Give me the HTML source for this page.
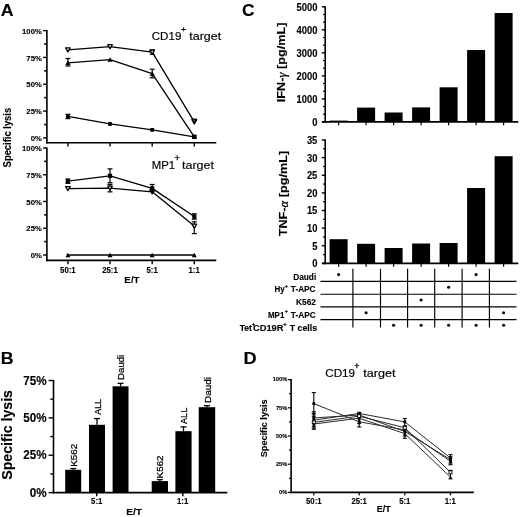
<!DOCTYPE html>
<html><head><meta charset="utf-8"><style>
html,body{margin:0;padding:0;background:#fff;}
svg{display:block;font-family:"Liberation Sans",sans-serif;will-change:transform;}
</style></head><body>
<svg width="520" height="517" viewBox="0 0 520 517">
<rect width="520" height="517" fill="#fff"/>
<text x="0.86" y="16.00" font-size="16.80" font-weight="bold" textLength="12.83" lengthAdjust="spacingAndGlyphs" stroke="#000" stroke-width="0.12">A</text>
<line x1="46.90" y1="30.00" x2="46.90" y2="143.50" stroke="#000" stroke-width="1.6"/>
<line x1="46.10" y1="142.70" x2="216.30" y2="142.70" stroke="#000" stroke-width="1.6"/>
<line x1="43.10" y1="30.60" x2="46.90" y2="30.60" stroke="#000" stroke-width="1.4"/>
<text x="22.08" y="33.80" font-size="7.70" font-weight="bold" textLength="19.69" lengthAdjust="spacingAndGlyphs" stroke="#000" stroke-width="0.12">100%</text>
<line x1="44.20" y1="44.01" x2="46.90" y2="44.01" stroke="#000" stroke-width="1.6"/>
<line x1="43.10" y1="57.43" x2="46.90" y2="57.43" stroke="#000" stroke-width="1.4"/>
<text x="26.39" y="60.63" font-size="7.70" font-weight="bold" textLength="15.41" lengthAdjust="spacingAndGlyphs" stroke="#000" stroke-width="0.12">75%</text>
<line x1="44.20" y1="70.84" x2="46.90" y2="70.84" stroke="#000" stroke-width="1.6"/>
<line x1="43.10" y1="84.25" x2="46.90" y2="84.25" stroke="#000" stroke-width="1.4"/>
<text x="26.39" y="87.45" font-size="7.70" font-weight="bold" textLength="15.41" lengthAdjust="spacingAndGlyphs" stroke="#000" stroke-width="0.12">50%</text>
<line x1="44.20" y1="97.66" x2="46.90" y2="97.66" stroke="#000" stroke-width="1.6"/>
<line x1="43.10" y1="111.08" x2="46.90" y2="111.08" stroke="#000" stroke-width="1.4"/>
<text x="26.39" y="114.28" font-size="7.70" font-weight="bold" textLength="15.41" lengthAdjust="spacingAndGlyphs" stroke="#000" stroke-width="0.12">25%</text>
<line x1="44.20" y1="124.49" x2="46.90" y2="124.49" stroke="#000" stroke-width="1.6"/>
<line x1="43.10" y1="137.90" x2="46.90" y2="137.90" stroke="#000" stroke-width="1.4"/>
<text x="30.67" y="141.10" font-size="7.70" font-weight="bold" textLength="11.13" lengthAdjust="spacingAndGlyphs" stroke="#000" stroke-width="0.12">0%</text>
<line x1="67.90" y1="142.70" x2="67.90" y2="146.50" stroke="#000" stroke-width="1.4"/>
<line x1="110.00" y1="142.70" x2="110.00" y2="146.50" stroke="#000" stroke-width="1.4"/>
<line x1="152.20" y1="142.70" x2="152.20" y2="146.50" stroke="#000" stroke-width="1.4"/>
<line x1="194.30" y1="142.70" x2="194.30" y2="146.50" stroke="#000" stroke-width="1.4"/>
<polyline points="67.90,49.91 110.00,46.69 152.20,52.06 194.30,121.81" fill="none" stroke="#000" stroke-width="1.3" stroke-linejoin="round"/>
<polyline points="67.90,62.79 110.00,59.57 152.20,73.52 194.30,136.83" fill="none" stroke="#000" stroke-width="1.3" stroke-linejoin="round"/>
<polyline points="67.90,116.44 110.00,123.95 152.20,129.85 194.30,136.83" fill="none" stroke="#000" stroke-width="1.3" stroke-linejoin="round"/>
<line x1="67.90" y1="58.50" x2="67.90" y2="66.01" stroke="#000" stroke-width="1.2"/>
<line x1="65.40" y1="58.50" x2="70.40" y2="58.50" stroke="#000" stroke-width="1.2"/>
<line x1="65.40" y1="66.01" x2="70.40" y2="66.01" stroke="#000" stroke-width="1.2"/>
<line x1="152.20" y1="69.23" x2="152.20" y2="77.81" stroke="#000" stroke-width="1.2"/>
<line x1="149.70" y1="69.23" x2="154.70" y2="69.23" stroke="#000" stroke-width="1.2"/>
<line x1="149.70" y1="77.81" x2="154.70" y2="77.81" stroke="#000" stroke-width="1.2"/>
<line x1="67.90" y1="114.29" x2="67.90" y2="118.59" stroke="#000" stroke-width="1.2"/>
<line x1="65.40" y1="114.29" x2="70.40" y2="114.29" stroke="#000" stroke-width="1.2"/>
<line x1="65.40" y1="118.59" x2="70.40" y2="118.59" stroke="#000" stroke-width="1.2"/>
<line x1="152.20" y1="49.91" x2="152.20" y2="54.21" stroke="#000" stroke-width="1.2"/>
<line x1="149.70" y1="49.91" x2="154.70" y2="49.91" stroke="#000" stroke-width="1.2"/>
<line x1="149.70" y1="54.21" x2="154.70" y2="54.21" stroke="#000" stroke-width="1.2"/>
<polygon points="65.60,47.91 70.20,47.91 67.90,51.91" fill="#fff" stroke="#000" stroke-width="1.3" stroke-linejoin="round"/>
<polygon points="107.70,44.69 112.30,44.69 110.00,48.70" fill="#fff" stroke="#000" stroke-width="1.3" stroke-linejoin="round"/>
<polygon points="149.90,50.06 154.50,50.06 152.20,54.06" fill="#fff" stroke="#000" stroke-width="1.3" stroke-linejoin="round"/>
<polygon points="192.00,119.80 196.60,119.80 194.30,123.81" fill="#fff" stroke="#000" stroke-width="1.3" stroke-linejoin="round"/>
<polygon points="192.20,119.17 196.40,119.17 194.30,123.57" fill="#666" stroke="#000" stroke-width="1.4" stroke-linejoin="round"/>
<polygon points="65.30,65.05 70.50,65.05 67.90,60.53" fill="#000"/>
<polygon points="107.40,61.83 112.60,61.83 110.00,57.31" fill="#000"/>
<polygon points="149.60,75.78 154.80,75.78 152.20,71.26" fill="#000"/>
<polygon points="191.70,139.09 196.90,139.09 194.30,134.56" fill="#000"/>
<rect x="66.00" y="114.54" width="3.80" height="3.80" fill="#000"/>
<rect x="108.10" y="122.05" width="3.80" height="3.80" fill="#000"/>
<rect x="150.30" y="127.95" width="3.80" height="3.80" fill="#000"/>
<rect x="192.40" y="134.93" width="3.80" height="3.80" fill="#000"/>
<rect x="192.10" y="134.63" width="4.40" height="4.40" fill="#000"/>
<text x="151.72" y="39.70" font-size="11.70" font-weight="normal" textLength="29.62" lengthAdjust="spacingAndGlyphs" stroke="#000" stroke-width="0.18">CD19</text>
<text x="180.96" y="31.52" font-size="7.96" font-weight="normal" textLength="5.18" lengthAdjust="spacingAndGlyphs" stroke="#000" stroke-width="0.3">+</text>
<text x="189.31" y="39.70" font-size="11.70" font-weight="normal" textLength="31.88" lengthAdjust="spacingAndGlyphs" stroke="#000" stroke-width="0.18">target</text>
<line x1="46.90" y1="147.40" x2="46.90" y2="261.20" stroke="#000" stroke-width="1.6"/>
<line x1="46.10" y1="260.40" x2="216.30" y2="260.40" stroke="#000" stroke-width="1.6"/>
<line x1="43.10" y1="148.00" x2="46.90" y2="148.00" stroke="#000" stroke-width="1.4"/>
<text x="22.08" y="151.20" font-size="7.70" font-weight="bold" textLength="19.69" lengthAdjust="spacingAndGlyphs" stroke="#000" stroke-width="0.12">100%</text>
<line x1="44.20" y1="161.38" x2="46.90" y2="161.38" stroke="#000" stroke-width="1.6"/>
<line x1="43.10" y1="174.75" x2="46.90" y2="174.75" stroke="#000" stroke-width="1.4"/>
<text x="26.39" y="177.95" font-size="7.70" font-weight="bold" textLength="15.41" lengthAdjust="spacingAndGlyphs" stroke="#000" stroke-width="0.12">75%</text>
<line x1="44.20" y1="188.12" x2="46.90" y2="188.12" stroke="#000" stroke-width="1.6"/>
<line x1="43.10" y1="201.50" x2="46.90" y2="201.50" stroke="#000" stroke-width="1.4"/>
<text x="26.39" y="204.70" font-size="7.70" font-weight="bold" textLength="15.41" lengthAdjust="spacingAndGlyphs" stroke="#000" stroke-width="0.12">50%</text>
<line x1="44.20" y1="214.88" x2="46.90" y2="214.88" stroke="#000" stroke-width="1.6"/>
<line x1="43.10" y1="228.25" x2="46.90" y2="228.25" stroke="#000" stroke-width="1.4"/>
<text x="26.39" y="231.45" font-size="7.70" font-weight="bold" textLength="15.41" lengthAdjust="spacingAndGlyphs" stroke="#000" stroke-width="0.12">25%</text>
<line x1="44.20" y1="241.62" x2="46.90" y2="241.62" stroke="#000" stroke-width="1.6"/>
<line x1="43.10" y1="255.00" x2="46.90" y2="255.00" stroke="#000" stroke-width="1.4"/>
<text x="30.67" y="258.20" font-size="7.70" font-weight="bold" textLength="11.13" lengthAdjust="spacingAndGlyphs" stroke="#000" stroke-width="0.12">0%</text>
<line x1="67.90" y1="260.40" x2="67.90" y2="264.20" stroke="#000" stroke-width="1.4"/>
<line x1="110.00" y1="260.40" x2="110.00" y2="264.20" stroke="#000" stroke-width="1.4"/>
<line x1="152.20" y1="260.40" x2="152.20" y2="264.20" stroke="#000" stroke-width="1.4"/>
<line x1="194.30" y1="260.40" x2="194.30" y2="264.20" stroke="#000" stroke-width="1.4"/>
<polyline points="67.90,181.17 110.00,175.82 152.20,188.34 194.30,216.48" fill="none" stroke="#000" stroke-width="1.3" stroke-linejoin="round"/>
<polyline points="67.90,188.66 110.00,188.12 152.20,191.87 194.30,226.11" fill="none" stroke="#000" stroke-width="1.3" stroke-linejoin="round"/>
<polyline points="67.90,255.00 110.00,255.00 152.20,255.00 194.30,255.00" fill="none" stroke="#000" stroke-width="1.3" stroke-linejoin="round"/>
<line x1="110.00" y1="168.87" x2="110.00" y2="182.77" stroke="#000" stroke-width="1.2"/>
<line x1="107.50" y1="168.87" x2="112.50" y2="168.87" stroke="#000" stroke-width="1.2"/>
<line x1="107.50" y1="182.77" x2="112.50" y2="182.77" stroke="#000" stroke-width="1.2"/>
<line x1="110.00" y1="184.38" x2="110.00" y2="191.87" stroke="#000" stroke-width="1.2"/>
<line x1="107.50" y1="184.38" x2="112.50" y2="184.38" stroke="#000" stroke-width="1.2"/>
<line x1="107.50" y1="191.87" x2="112.50" y2="191.87" stroke="#000" stroke-width="1.2"/>
<line x1="194.30" y1="213.81" x2="194.30" y2="219.16" stroke="#000" stroke-width="1.2"/>
<line x1="191.80" y1="213.81" x2="196.80" y2="213.81" stroke="#000" stroke-width="1.2"/>
<line x1="191.80" y1="219.16" x2="196.80" y2="219.16" stroke="#000" stroke-width="1.2"/>
<line x1="194.30" y1="221.83" x2="194.30" y2="233.60" stroke="#000" stroke-width="1.2"/>
<line x1="191.80" y1="221.83" x2="196.80" y2="221.83" stroke="#000" stroke-width="1.2"/>
<line x1="191.80" y1="233.60" x2="196.80" y2="233.60" stroke="#000" stroke-width="1.2"/>
<line x1="67.90" y1="179.03" x2="67.90" y2="183.31" stroke="#000" stroke-width="1.2"/>
<line x1="65.40" y1="179.03" x2="70.40" y2="179.03" stroke="#000" stroke-width="1.2"/>
<line x1="65.40" y1="183.31" x2="70.40" y2="183.31" stroke="#000" stroke-width="1.2"/>
<line x1="152.20" y1="184.49" x2="152.20" y2="190.80" stroke="#000" stroke-width="1.2"/>
<line x1="149.70" y1="184.49" x2="154.70" y2="184.49" stroke="#000" stroke-width="1.2"/>
<line x1="149.70" y1="190.80" x2="154.70" y2="190.80" stroke="#000" stroke-width="1.2"/>
<rect x="65.80" y="179.07" width="4.20" height="4.20" fill="#000"/>
<rect x="107.90" y="173.72" width="4.20" height="4.20" fill="#000"/>
<rect x="150.10" y="186.24" width="4.20" height="4.20" fill="#000"/>
<rect x="192.20" y="214.38" width="4.20" height="4.20" fill="#000"/>
<polygon points="65.60,186.66 70.20,186.66 67.90,190.66" fill="#fff" stroke="#000" stroke-width="1.3" stroke-linejoin="round"/>
<polygon points="107.70,186.12 112.30,186.12 110.00,190.13" fill="#fff" stroke="#000" stroke-width="1.3" stroke-linejoin="round"/>
<polygon points="149.90,189.87 154.50,189.87 152.20,193.87" fill="#fff" stroke="#000" stroke-width="1.3" stroke-linejoin="round"/>
<polygon points="192.00,224.11 196.60,224.11 194.30,228.11" fill="#fff" stroke="#000" stroke-width="1.3" stroke-linejoin="round"/>
<polygon points="149.50,189.52 154.90,189.52 152.20,194.22" fill="#000"/>
<polygon points="65.40,257.18 70.40,257.18 67.90,252.82" fill="#000"/>
<polygon points="107.50,257.18 112.50,257.18 110.00,252.82" fill="#000"/>
<polygon points="149.70,257.18 154.70,257.18 152.20,252.82" fill="#000"/>
<polygon points="191.80,257.18 196.80,257.18 194.30,252.82" fill="#000"/>
<text x="151.69" y="168.50" font-size="11.70" font-weight="normal" textLength="23.39" lengthAdjust="spacingAndGlyphs" stroke="#000" stroke-width="0.18">MP1</text>
<text x="174.43" y="160.65" font-size="8.37" font-weight="normal" textLength="5.54" lengthAdjust="spacingAndGlyphs" stroke="#000" stroke-width="0.3">+</text>
<text x="182.01" y="168.50" font-size="11.70" font-weight="normal" textLength="31.88" lengthAdjust="spacingAndGlyphs" stroke="#000" stroke-width="0.18">target</text>
<text x="60.07" y="272.50" font-size="8.40" font-weight="bold" textLength="15.64" lengthAdjust="spacingAndGlyphs" stroke="#000" stroke-width="0.12">50:1</text>
<text x="102.15" y="272.50" font-size="8.40" font-weight="bold" textLength="15.64" lengthAdjust="spacingAndGlyphs" stroke="#000" stroke-width="0.12">25:1</text>
<text x="146.54" y="272.50" font-size="8.40" font-weight="bold" textLength="11.29" lengthAdjust="spacingAndGlyphs" stroke="#000" stroke-width="0.12">5:1</text>
<text x="188.50" y="272.50" font-size="8.40" font-weight="bold" textLength="11.29" lengthAdjust="spacingAndGlyphs" stroke="#000" stroke-width="0.12">1:1</text>
<text x="124.36" y="282.50" font-size="9.00" font-weight="bold" textLength="15.24" lengthAdjust="spacingAndGlyphs" stroke="#000" stroke-width="0.12">E/T</text>
<text x="10.80" y="167.38" font-size="10.00" font-weight="bold" textLength="59.58" lengthAdjust="spacingAndGlyphs" transform="rotate(-90 10.80 167.38)" stroke="#000" stroke-width="0.12">Specific lysis</text>
<text x="242.10" y="16.20" font-size="17.00" font-weight="bold" textLength="12.57" lengthAdjust="spacingAndGlyphs" stroke="#000" stroke-width="0.12">C</text>
<line x1="325.20" y1="6.20" x2="325.20" y2="122.70" stroke="#000" stroke-width="1.6"/>
<line x1="322.00" y1="121.90" x2="518.30" y2="121.90" stroke="#000" stroke-width="1.6"/>
<line x1="321.80" y1="6.80" x2="325.20" y2="6.80" stroke="#000" stroke-width="1.4"/>
<text x="296.60" y="10.70" font-size="10.20" font-weight="bold" textLength="20.88" lengthAdjust="spacingAndGlyphs" stroke="#000" stroke-width="0.12">5000</text>
<line x1="323.00" y1="14.47" x2="325.20" y2="14.47" stroke="#000" stroke-width="1.2"/>
<line x1="323.00" y1="22.15" x2="325.20" y2="22.15" stroke="#000" stroke-width="1.2"/>
<line x1="321.80" y1="29.82" x2="325.20" y2="29.82" stroke="#000" stroke-width="1.4"/>
<text x="296.60" y="33.72" font-size="10.20" font-weight="bold" textLength="20.88" lengthAdjust="spacingAndGlyphs" stroke="#000" stroke-width="0.12">4000</text>
<line x1="323.00" y1="37.49" x2="325.20" y2="37.49" stroke="#000" stroke-width="1.2"/>
<line x1="323.00" y1="45.17" x2="325.20" y2="45.17" stroke="#000" stroke-width="1.2"/>
<line x1="321.80" y1="52.84" x2="325.20" y2="52.84" stroke="#000" stroke-width="1.4"/>
<text x="296.60" y="56.74" font-size="10.20" font-weight="bold" textLength="20.88" lengthAdjust="spacingAndGlyphs" stroke="#000" stroke-width="0.12">3000</text>
<line x1="323.00" y1="60.51" x2="325.20" y2="60.51" stroke="#000" stroke-width="1.2"/>
<line x1="323.00" y1="68.19" x2="325.20" y2="68.19" stroke="#000" stroke-width="1.2"/>
<line x1="321.80" y1="75.86" x2="325.20" y2="75.86" stroke="#000" stroke-width="1.4"/>
<text x="296.60" y="79.76" font-size="10.20" font-weight="bold" textLength="20.88" lengthAdjust="spacingAndGlyphs" stroke="#000" stroke-width="0.12">2000</text>
<line x1="323.00" y1="83.53" x2="325.20" y2="83.53" stroke="#000" stroke-width="1.2"/>
<line x1="323.00" y1="91.21" x2="325.20" y2="91.21" stroke="#000" stroke-width="1.2"/>
<line x1="321.80" y1="98.88" x2="325.20" y2="98.88" stroke="#000" stroke-width="1.4"/>
<text x="296.60" y="102.78" font-size="10.20" font-weight="bold" textLength="20.88" lengthAdjust="spacingAndGlyphs" stroke="#000" stroke-width="0.12">1000</text>
<line x1="323.00" y1="106.55" x2="325.20" y2="106.55" stroke="#000" stroke-width="1.2"/>
<line x1="323.00" y1="114.23" x2="325.20" y2="114.23" stroke="#000" stroke-width="1.2"/>
<line x1="321.80" y1="121.90" x2="325.20" y2="121.90" stroke="#000" stroke-width="1.4"/>
<text x="312.27" y="125.80" font-size="10.20" font-weight="bold" textLength="5.22" lengthAdjust="spacingAndGlyphs" stroke="#000" stroke-width="0.12">0</text>
<line x1="338.60" y1="121.90" x2="338.60" y2="125.20" stroke="#000" stroke-width="1.2"/>
<line x1="366.10" y1="121.90" x2="366.10" y2="125.20" stroke="#000" stroke-width="1.2"/>
<line x1="393.60" y1="121.90" x2="393.60" y2="125.20" stroke="#000" stroke-width="1.2"/>
<line x1="421.10" y1="121.90" x2="421.10" y2="125.20" stroke="#000" stroke-width="1.2"/>
<line x1="448.60" y1="121.90" x2="448.60" y2="125.20" stroke="#000" stroke-width="1.2"/>
<line x1="476.10" y1="121.90" x2="476.10" y2="125.20" stroke="#000" stroke-width="1.2"/>
<line x1="503.60" y1="121.90" x2="503.60" y2="125.20" stroke="#000" stroke-width="1.2"/>
<rect x="329.60" y="120.60" width="18.00" height="1.00" fill="#000"/>
<rect x="357.10" y="107.60" width="18.00" height="14.00" fill="#000"/>
<rect x="384.60" y="112.50" width="18.00" height="9.10" fill="#000"/>
<rect x="412.10" y="107.40" width="18.00" height="14.20" fill="#000"/>
<rect x="439.60" y="87.30" width="18.00" height="34.30" fill="#000"/>
<rect x="467.10" y="50.00" width="18.00" height="71.60" fill="#000"/>
<rect x="494.60" y="13.00" width="18.00" height="108.60" fill="#000"/>
<line x1="325.20" y1="139.40" x2="325.20" y2="264.20" stroke="#000" stroke-width="1.6"/>
<line x1="322.00" y1="263.40" x2="518.30" y2="263.40" stroke="#000" stroke-width="1.6"/>
<line x1="321.80" y1="140.00" x2="325.20" y2="140.00" stroke="#000" stroke-width="1.4"/>
<text x="306.92" y="143.90" font-size="10.20" font-weight="bold" textLength="10.44" lengthAdjust="spacingAndGlyphs" stroke="#000" stroke-width="0.12">35</text>
<line x1="323.00" y1="148.81" x2="325.20" y2="148.81" stroke="#000" stroke-width="1.2"/>
<line x1="321.80" y1="157.63" x2="325.20" y2="157.63" stroke="#000" stroke-width="1.4"/>
<text x="307.06" y="161.53" font-size="10.20" font-weight="bold" textLength="10.44" lengthAdjust="spacingAndGlyphs" stroke="#000" stroke-width="0.12">30</text>
<line x1="323.00" y1="166.44" x2="325.20" y2="166.44" stroke="#000" stroke-width="1.2"/>
<line x1="321.80" y1="175.26" x2="325.20" y2="175.26" stroke="#000" stroke-width="1.4"/>
<text x="306.92" y="179.16" font-size="10.20" font-weight="bold" textLength="10.44" lengthAdjust="spacingAndGlyphs" stroke="#000" stroke-width="0.12">25</text>
<line x1="323.00" y1="184.07" x2="325.20" y2="184.07" stroke="#000" stroke-width="1.2"/>
<line x1="321.80" y1="192.89" x2="325.20" y2="192.89" stroke="#000" stroke-width="1.4"/>
<text x="307.06" y="196.79" font-size="10.20" font-weight="bold" textLength="10.44" lengthAdjust="spacingAndGlyphs" stroke="#000" stroke-width="0.12">20</text>
<line x1="323.00" y1="201.70" x2="325.20" y2="201.70" stroke="#000" stroke-width="1.2"/>
<line x1="321.80" y1="210.51" x2="325.20" y2="210.51" stroke="#000" stroke-width="1.4"/>
<text x="306.92" y="214.41" font-size="10.20" font-weight="bold" textLength="10.44" lengthAdjust="spacingAndGlyphs" stroke="#000" stroke-width="0.12">15</text>
<line x1="323.00" y1="219.33" x2="325.20" y2="219.33" stroke="#000" stroke-width="1.2"/>
<line x1="321.80" y1="228.14" x2="325.20" y2="228.14" stroke="#000" stroke-width="1.4"/>
<text x="307.06" y="232.04" font-size="10.20" font-weight="bold" textLength="10.44" lengthAdjust="spacingAndGlyphs" stroke="#000" stroke-width="0.12">10</text>
<line x1="323.00" y1="236.96" x2="325.20" y2="236.96" stroke="#000" stroke-width="1.2"/>
<line x1="321.80" y1="245.77" x2="325.20" y2="245.77" stroke="#000" stroke-width="1.4"/>
<text x="312.13" y="249.67" font-size="10.20" font-weight="bold" textLength="5.22" lengthAdjust="spacingAndGlyphs" stroke="#000" stroke-width="0.12">5</text>
<line x1="323.00" y1="254.59" x2="325.20" y2="254.59" stroke="#000" stroke-width="1.2"/>
<line x1="321.80" y1="263.40" x2="325.20" y2="263.40" stroke="#000" stroke-width="1.4"/>
<text x="312.27" y="267.30" font-size="10.20" font-weight="bold" textLength="5.22" lengthAdjust="spacingAndGlyphs" stroke="#000" stroke-width="0.12">0</text>
<line x1="338.60" y1="263.40" x2="338.60" y2="266.70" stroke="#000" stroke-width="1.2"/>
<line x1="366.10" y1="263.40" x2="366.10" y2="266.70" stroke="#000" stroke-width="1.2"/>
<line x1="393.60" y1="263.40" x2="393.60" y2="266.70" stroke="#000" stroke-width="1.2"/>
<line x1="421.10" y1="263.40" x2="421.10" y2="266.70" stroke="#000" stroke-width="1.2"/>
<line x1="448.60" y1="263.40" x2="448.60" y2="266.70" stroke="#000" stroke-width="1.2"/>
<line x1="476.10" y1="263.40" x2="476.10" y2="266.70" stroke="#000" stroke-width="1.2"/>
<line x1="503.60" y1="263.40" x2="503.60" y2="266.70" stroke="#000" stroke-width="1.2"/>
<rect x="329.60" y="239.20" width="18.00" height="23.80" fill="#000"/>
<rect x="357.10" y="243.80" width="18.00" height="19.20" fill="#000"/>
<rect x="384.60" y="248.00" width="18.00" height="15.00" fill="#000"/>
<rect x="412.10" y="243.50" width="18.00" height="19.50" fill="#000"/>
<rect x="439.60" y="243.00" width="18.00" height="20.00" fill="#000"/>
<rect x="467.10" y="188.00" width="18.00" height="75.00" fill="#000"/>
<rect x="494.60" y="156.20" width="18.00" height="106.80" fill="#000"/>
<text x="284.70" y="102.22" font-size="11.80" font-weight="bold" textLength="24.65" lengthAdjust="spacingAndGlyphs" transform="rotate(-90 284.70 102.22)" stroke="#000" stroke-width="0.12">IFN-</text>
<text x="285.70" y="77.57" font-size="13.22" font-weight="normal" font-family="Liberation Serif" font-style="italic" textLength="5.00" lengthAdjust="spacingAndGlyphs" transform="rotate(-90 285.70 77.57)" stroke="#000" stroke-width="0.3">γ</text>
<text x="284.70" y="72.57" font-size="11.80" font-weight="bold" textLength="50.01" lengthAdjust="spacingAndGlyphs" transform="rotate(-90 284.70 72.57)" stroke="#000" stroke-width="0.12"> [pg/mL]</text>
<text x="287.30" y="236.33" font-size="11.80" font-weight="bold" textLength="28.85" lengthAdjust="spacingAndGlyphs" transform="rotate(-90 287.30 236.33)" stroke="#000" stroke-width="0.12">TNF-</text>
<text x="288.30" y="207.48" font-size="13.22" font-weight="normal" font-family="Liberation Serif" font-style="italic" textLength="6.65" lengthAdjust="spacingAndGlyphs" transform="rotate(-90 288.30 207.48)" stroke="#000" stroke-width="0.3">α</text>
<text x="287.30" y="200.83" font-size="11.80" font-weight="bold" textLength="49.97" lengthAdjust="spacingAndGlyphs" transform="rotate(-90 287.30 200.83)" stroke="#000" stroke-width="0.12"> [pg/mL]</text>
<text x="293.15" y="279.60" font-size="8.30" font-weight="bold" textLength="23.06" lengthAdjust="spacingAndGlyphs" stroke="#000" stroke-width="0.12">Daudi</text>
<text x="274.58" y="292.40" font-size="8.30" font-weight="bold" textLength="10.18" lengthAdjust="spacingAndGlyphs" stroke="#000" stroke-width="0.12">Hy</text>
<text x="284.69" y="288.13" font-size="5.69" font-weight="bold" textLength="3.12" lengthAdjust="spacingAndGlyphs" stroke="#000" stroke-width="0.2">+</text>
<text x="290.82" y="292.40" font-size="8.30" font-weight="bold" textLength="24.69" lengthAdjust="spacingAndGlyphs" stroke="#000" stroke-width="0.12">T-APC</text>
<text x="296.10" y="304.90" font-size="8.30" font-weight="bold" textLength="19.84" lengthAdjust="spacingAndGlyphs" stroke="#000" stroke-width="0.12">K562</text>
<text x="267.98" y="318.20" font-size="8.40" font-weight="bold" textLength="16.43" lengthAdjust="spacingAndGlyphs" stroke="#000" stroke-width="0.12">MP1</text>
<text x="284.79" y="312.50" font-size="5.29" font-weight="bold" textLength="3.12" lengthAdjust="spacingAndGlyphs" stroke="#000" stroke-width="0.2">+</text>
<text x="290.82" y="318.20" font-size="8.40" font-weight="bold" textLength="24.89" lengthAdjust="spacingAndGlyphs" stroke="#000" stroke-width="0.12">T-APC</text>
<text x="239.71" y="330.50" font-size="8.40" font-weight="bold" textLength="12.28" lengthAdjust="spacingAndGlyphs" stroke="#000" stroke-width="0.12">Tet</text>
<text x="251.67" y="325.64" font-size="5.88" font-weight="bold" textLength="3.35" lengthAdjust="spacingAndGlyphs" stroke="#000" stroke-width="0.2">+</text>
<text x="253.03" y="330.50" font-size="8.40" font-weight="bold" textLength="30.49" lengthAdjust="spacingAndGlyphs" stroke="#000" stroke-width="0.12">CD19R</text>
<text x="283.36" y="325.64" font-size="5.88" font-weight="bold" textLength="3.47" lengthAdjust="spacingAndGlyphs" stroke="#000" stroke-width="0.2">+</text>
<text x="289.71" y="330.50" font-size="8.40" font-weight="bold" textLength="27.47" lengthAdjust="spacingAndGlyphs" stroke="#000" stroke-width="0.12">T cells</text>
<line x1="320.50" y1="281.40" x2="516.50" y2="281.40" stroke="#000" stroke-width="1.15"/>
<line x1="320.50" y1="294.20" x2="516.50" y2="294.20" stroke="#000" stroke-width="1.15"/>
<line x1="320.50" y1="306.90" x2="516.50" y2="306.90" stroke="#000" stroke-width="1.15"/>
<line x1="320.50" y1="319.60" x2="516.50" y2="319.60" stroke="#000" stroke-width="1.15"/>
<line x1="352.90" y1="268.80" x2="352.90" y2="327.50" stroke="#000" stroke-width="1.15"/>
<line x1="380.50" y1="268.80" x2="380.50" y2="327.50" stroke="#000" stroke-width="1.15"/>
<line x1="407.60" y1="268.80" x2="407.60" y2="327.50" stroke="#000" stroke-width="1.15"/>
<line x1="434.70" y1="268.80" x2="434.70" y2="327.50" stroke="#000" stroke-width="1.15"/>
<line x1="462.10" y1="268.80" x2="462.10" y2="327.50" stroke="#000" stroke-width="1.15"/>
<line x1="489.40" y1="268.80" x2="489.40" y2="327.50" stroke="#000" stroke-width="1.15"/>
<circle cx="338.60" cy="274.60" r="1.55" fill="#000"/>
<circle cx="366.10" cy="312.70" r="1.55" fill="#000"/>
<circle cx="393.60" cy="325.30" r="1.55" fill="#000"/>
<circle cx="421.10" cy="300.00" r="1.55" fill="#000"/>
<circle cx="421.10" cy="325.30" r="1.55" fill="#000"/>
<circle cx="448.60" cy="287.20" r="1.55" fill="#000"/>
<circle cx="448.60" cy="325.30" r="1.55" fill="#000"/>
<circle cx="476.10" cy="274.60" r="1.55" fill="#000"/>
<circle cx="476.10" cy="325.30" r="1.55" fill="#000"/>
<circle cx="503.60" cy="312.70" r="1.55" fill="#000"/>
<circle cx="503.60" cy="325.30" r="1.55" fill="#000"/>
<text x="0.75" y="363.50" font-size="15.80" font-weight="bold" textLength="12.79" lengthAdjust="spacingAndGlyphs" stroke="#000" stroke-width="0.12">B</text>
<line x1="53.50" y1="379.90" x2="53.50" y2="493.40" stroke="#000" stroke-width="1.6"/>
<line x1="52.70" y1="492.60" x2="227.30" y2="492.60" stroke="#000" stroke-width="1.6"/>
<line x1="48.60" y1="380.50" x2="53.50" y2="380.50" stroke="#000" stroke-width="1.4"/>
<text x="23.27" y="384.60" font-size="11.90" font-weight="bold" textLength="23.34" lengthAdjust="spacingAndGlyphs" stroke="#000" stroke-width="0.12">75%</text>
<line x1="50.30" y1="399.18" x2="53.50" y2="399.18" stroke="#000" stroke-width="1.4"/>
<line x1="48.60" y1="417.87" x2="53.50" y2="417.87" stroke="#000" stroke-width="1.4"/>
<text x="23.27" y="421.97" font-size="11.90" font-weight="bold" textLength="23.34" lengthAdjust="spacingAndGlyphs" stroke="#000" stroke-width="0.12">50%</text>
<line x1="50.30" y1="436.55" x2="53.50" y2="436.55" stroke="#000" stroke-width="1.4"/>
<line x1="48.60" y1="455.23" x2="53.50" y2="455.23" stroke="#000" stroke-width="1.4"/>
<text x="23.27" y="459.33" font-size="11.90" font-weight="bold" textLength="23.34" lengthAdjust="spacingAndGlyphs" stroke="#000" stroke-width="0.12">25%</text>
<line x1="50.30" y1="473.92" x2="53.50" y2="473.92" stroke="#000" stroke-width="1.4"/>
<line x1="48.60" y1="492.60" x2="53.50" y2="492.60" stroke="#000" stroke-width="1.4"/>
<text x="29.74" y="496.70" font-size="11.90" font-weight="bold" textLength="16.86" lengthAdjust="spacingAndGlyphs" stroke="#000" stroke-width="0.12">0%</text>
<rect x="65.20" y="469.80" width="16.00" height="22.80" fill="#000"/>
<line x1="73.20" y1="468.60" x2="73.20" y2="469.80" stroke="#000" stroke-width="1.3"/>
<line x1="70.20" y1="468.60" x2="76.20" y2="468.60" stroke="#000" stroke-width="1.3"/>
<rect x="89.00" y="424.80" width="16.00" height="67.80" fill="#000"/>
<line x1="97.00" y1="418.60" x2="97.00" y2="424.80" stroke="#000" stroke-width="1.3"/>
<line x1="94.00" y1="418.60" x2="100.00" y2="418.60" stroke="#000" stroke-width="1.3"/>
<rect x="112.60" y="386.30" width="15.90" height="106.30" fill="#000"/>
<line x1="120.55" y1="383.30" x2="120.55" y2="386.30" stroke="#000" stroke-width="1.3"/>
<line x1="117.55" y1="383.30" x2="123.55" y2="383.30" stroke="#000" stroke-width="1.3"/>
<rect x="151.70" y="481.10" width="16.30" height="11.50" fill="#000"/>
<line x1="159.85" y1="479.60" x2="159.85" y2="481.10" stroke="#000" stroke-width="1.3"/>
<line x1="156.85" y1="479.60" x2="162.85" y2="479.60" stroke="#000" stroke-width="1.3"/>
<rect x="175.40" y="431.20" width="16.20" height="61.40" fill="#000"/>
<line x1="183.50" y1="426.90" x2="183.50" y2="431.20" stroke="#000" stroke-width="1.3"/>
<line x1="180.50" y1="426.90" x2="186.50" y2="426.90" stroke="#000" stroke-width="1.3"/>
<rect x="198.70" y="407.20" width="16.50" height="85.40" fill="#000"/>
<line x1="206.95" y1="405.70" x2="206.95" y2="407.20" stroke="#000" stroke-width="1.3"/>
<line x1="203.95" y1="405.70" x2="209.95" y2="405.70" stroke="#000" stroke-width="1.3"/>
<text x="76.80" y="466.79" font-size="9.60" font-weight="normal" textLength="22.98" lengthAdjust="spacingAndGlyphs" transform="rotate(-90 76.80 466.79)" stroke="#000" stroke-width="0.25">K562</text>
<text x="100.60" y="414.74" font-size="9.60" font-weight="normal" textLength="15.81" lengthAdjust="spacingAndGlyphs" transform="rotate(-90 100.60 414.74)" stroke="#000" stroke-width="0.25">ALL</text>
<text x="124.15" y="379.87" font-size="9.60" font-weight="normal" textLength="25.12" lengthAdjust="spacingAndGlyphs" transform="rotate(-90 124.15 379.87)" stroke="#000" stroke-width="0.25">Daudi</text>
<text x="163.45" y="478.39" font-size="9.60" font-weight="normal" textLength="22.98" lengthAdjust="spacingAndGlyphs" transform="rotate(-90 163.45 478.39)" stroke="#000" stroke-width="0.25">K562</text>
<text x="187.10" y="424.05" font-size="9.60" font-weight="normal" textLength="16.32" lengthAdjust="spacingAndGlyphs" transform="rotate(-90 187.10 424.05)" stroke="#000" stroke-width="0.25">ALL</text>
<text x="210.55" y="403.00" font-size="9.60" font-weight="normal" textLength="26.08" lengthAdjust="spacingAndGlyphs" transform="rotate(-90 210.55 403.00)" stroke="#000" stroke-width="0.25">Daudi</text>
<line x1="96.70" y1="492.60" x2="96.70" y2="496.20" stroke="#000" stroke-width="1.4"/>
<text x="91.05" y="504.20" font-size="8.20" font-weight="bold" textLength="11.26" lengthAdjust="spacingAndGlyphs" stroke="#000" stroke-width="0.12">5:1</text>
<line x1="182.80" y1="492.60" x2="182.80" y2="496.20" stroke="#000" stroke-width="1.4"/>
<text x="177.02" y="504.20" font-size="8.20" font-weight="bold" textLength="11.26" lengthAdjust="spacingAndGlyphs" stroke="#000" stroke-width="0.12">1:1</text>
<text x="126.24" y="515.20" font-size="8.90" font-weight="bold" textLength="15.87" lengthAdjust="spacingAndGlyphs" stroke="#000" stroke-width="0.12">E/T</text>
<text x="11.60" y="479.72" font-size="14.60" font-weight="bold" textLength="89.72" lengthAdjust="spacingAndGlyphs" transform="rotate(-90 11.60 479.72)" stroke="#000" stroke-width="0.12">Specific lysis</text>
<text x="243.62" y="364.20" font-size="17.00" font-weight="bold" textLength="13.15" lengthAdjust="spacingAndGlyphs" stroke="#000" stroke-width="0.12">D</text>
<line x1="291.10" y1="379.00" x2="291.10" y2="493.20" stroke="#000" stroke-width="1.6"/>
<line x1="290.30" y1="492.40" x2="473.80" y2="492.40" stroke="#000" stroke-width="1.6"/>
<line x1="288.00" y1="379.60" x2="291.10" y2="379.60" stroke="#000" stroke-width="1.2"/>
<text x="272.69" y="381.30" font-size="5.90" font-weight="bold" textLength="14.64" lengthAdjust="spacingAndGlyphs" stroke="#000" stroke-width="0.12">100%</text>
<line x1="289.00" y1="393.70" x2="291.10" y2="393.70" stroke="#000" stroke-width="1.2"/>
<line x1="288.00" y1="407.80" x2="291.10" y2="407.80" stroke="#000" stroke-width="1.2"/>
<text x="275.90" y="409.50" font-size="5.90" font-weight="bold" textLength="11.45" lengthAdjust="spacingAndGlyphs" stroke="#000" stroke-width="0.12">75%</text>
<line x1="289.00" y1="421.90" x2="291.10" y2="421.90" stroke="#000" stroke-width="1.2"/>
<line x1="288.00" y1="436.00" x2="291.10" y2="436.00" stroke="#000" stroke-width="1.2"/>
<text x="275.90" y="437.70" font-size="5.90" font-weight="bold" textLength="11.45" lengthAdjust="spacingAndGlyphs" stroke="#000" stroke-width="0.12">50%</text>
<line x1="289.00" y1="450.10" x2="291.10" y2="450.10" stroke="#000" stroke-width="1.2"/>
<line x1="288.00" y1="464.20" x2="291.10" y2="464.20" stroke="#000" stroke-width="1.2"/>
<text x="275.90" y="465.90" font-size="5.90" font-weight="bold" textLength="11.45" lengthAdjust="spacingAndGlyphs" stroke="#000" stroke-width="0.12">25%</text>
<line x1="289.00" y1="478.30" x2="291.10" y2="478.30" stroke="#000" stroke-width="1.2"/>
<line x1="288.00" y1="492.40" x2="291.10" y2="492.40" stroke="#000" stroke-width="1.2"/>
<text x="279.07" y="494.10" font-size="5.90" font-weight="bold" textLength="8.27" lengthAdjust="spacingAndGlyphs" stroke="#000" stroke-width="0.12">0%</text>
<line x1="313.80" y1="492.40" x2="313.80" y2="495.40" stroke="#000" stroke-width="1.2"/>
<text x="306.05" y="504.40" font-size="8.40" font-weight="bold" textLength="15.47" lengthAdjust="spacingAndGlyphs" stroke="#000" stroke-width="0.12">50:1</text>
<line x1="359.20" y1="492.40" x2="359.20" y2="495.40" stroke="#000" stroke-width="1.2"/>
<text x="351.43" y="504.40" font-size="8.40" font-weight="bold" textLength="15.47" lengthAdjust="spacingAndGlyphs" stroke="#000" stroke-width="0.12">25:1</text>
<line x1="404.80" y1="492.40" x2="404.80" y2="495.40" stroke="#000" stroke-width="1.2"/>
<text x="399.20" y="504.40" font-size="8.40" font-weight="bold" textLength="11.17" lengthAdjust="spacingAndGlyphs" stroke="#000" stroke-width="0.12">5:1</text>
<line x1="450.50" y1="492.40" x2="450.50" y2="495.40" stroke="#000" stroke-width="1.2"/>
<text x="444.76" y="504.40" font-size="8.40" font-weight="bold" textLength="11.17" lengthAdjust="spacingAndGlyphs" stroke="#000" stroke-width="0.12">1:1</text>
<text x="376.71" y="511.90" font-size="8.70" font-weight="bold" textLength="14.09" lengthAdjust="spacingAndGlyphs" stroke="#000" stroke-width="0.12">E/T</text>
<text x="267.40" y="457.27" font-size="9.60" font-weight="bold" textLength="57.96" lengthAdjust="spacingAndGlyphs" transform="rotate(-90 267.40 457.27)" stroke="#000" stroke-width="0.12">Specific lysis</text>
<text x="325.21" y="376.80" font-size="11.70" font-weight="normal" textLength="29.93" lengthAdjust="spacingAndGlyphs" stroke="#000" stroke-width="0.18">CD19</text>
<text x="354.16" y="368.97" font-size="8.57" font-weight="normal" textLength="5.18" lengthAdjust="spacingAndGlyphs" stroke="#000" stroke-width="0.3">+</text>
<text x="363.31" y="376.80" font-size="11.70" font-weight="normal" textLength="32.28" lengthAdjust="spacingAndGlyphs" stroke="#000" stroke-width="0.18">target</text>
<polyline points="313.80,403.63 359.20,421.79 404.80,429.91 450.50,461.38" fill="none" stroke="#2a2a2a" stroke-width="1.0" stroke-linejoin="round"/>
<polyline points="313.80,420.21 359.20,413.44 404.80,421.90 450.50,458.00" fill="none" stroke="#2a2a2a" stroke-width="1.0" stroke-linejoin="round"/>
<polyline points="313.80,417.95 359.20,415.02 404.80,431.49 450.50,459.69" fill="none" stroke="#2a2a2a" stroke-width="1.0" stroke-linejoin="round"/>
<polyline points="313.80,422.35 359.20,416.15 404.80,427.77 450.50,472.32" fill="none" stroke="#2a2a2a" stroke-width="1.0" stroke-linejoin="round"/>
<polyline points="313.80,424.04 359.20,418.18 404.80,433.63 450.50,477.17" fill="none" stroke="#2a2a2a" stroke-width="1.0" stroke-linejoin="round"/>
<line x1="313.80" y1="392.57" x2="313.80" y2="413.44" stroke="#000" stroke-width="1.1"/>
<line x1="311.80" y1="392.57" x2="315.80" y2="392.57" stroke="#000" stroke-width="1.1"/>
<line x1="311.80" y1="413.44" x2="315.80" y2="413.44" stroke="#000" stroke-width="1.1"/>
<line x1="313.80" y1="411.75" x2="313.80" y2="426.41" stroke="#000" stroke-width="1.1"/>
<line x1="311.80" y1="411.75" x2="315.80" y2="411.75" stroke="#000" stroke-width="1.1"/>
<line x1="311.80" y1="426.41" x2="315.80" y2="426.41" stroke="#000" stroke-width="1.1"/>
<line x1="313.80" y1="414.00" x2="313.80" y2="428.10" stroke="#000" stroke-width="1.1"/>
<line x1="311.80" y1="414.00" x2="315.80" y2="414.00" stroke="#000" stroke-width="1.1"/>
<line x1="311.80" y1="428.10" x2="315.80" y2="428.10" stroke="#000" stroke-width="1.1"/>
<line x1="313.80" y1="416.15" x2="313.80" y2="429.23" stroke="#000" stroke-width="1.1"/>
<line x1="311.80" y1="416.15" x2="315.80" y2="416.15" stroke="#000" stroke-width="1.1"/>
<line x1="311.80" y1="429.23" x2="315.80" y2="429.23" stroke="#000" stroke-width="1.1"/>
<line x1="359.20" y1="412.31" x2="359.20" y2="426.98" stroke="#000" stroke-width="1.1"/>
<line x1="357.20" y1="412.31" x2="361.20" y2="412.31" stroke="#000" stroke-width="1.1"/>
<line x1="357.20" y1="426.98" x2="361.20" y2="426.98" stroke="#000" stroke-width="1.1"/>
<line x1="359.20" y1="414.57" x2="359.20" y2="423.59" stroke="#000" stroke-width="1.1"/>
<line x1="357.20" y1="414.57" x2="361.20" y2="414.57" stroke="#000" stroke-width="1.1"/>
<line x1="357.20" y1="423.59" x2="361.20" y2="423.59" stroke="#000" stroke-width="1.1"/>
<line x1="404.80" y1="418.52" x2="404.80" y2="438.26" stroke="#000" stroke-width="1.1"/>
<line x1="402.80" y1="418.52" x2="406.80" y2="418.52" stroke="#000" stroke-width="1.1"/>
<line x1="402.80" y1="438.26" x2="406.80" y2="438.26" stroke="#000" stroke-width="1.1"/>
<line x1="404.80" y1="425.85" x2="404.80" y2="436.00" stroke="#000" stroke-width="1.1"/>
<line x1="402.80" y1="425.85" x2="406.80" y2="425.85" stroke="#000" stroke-width="1.1"/>
<line x1="402.80" y1="436.00" x2="406.80" y2="436.00" stroke="#000" stroke-width="1.1"/>
<line x1="450.50" y1="454.61" x2="450.50" y2="464.76" stroke="#000" stroke-width="1.1"/>
<line x1="448.50" y1="454.61" x2="452.50" y2="454.61" stroke="#000" stroke-width="1.1"/>
<line x1="448.50" y1="464.76" x2="452.50" y2="464.76" stroke="#000" stroke-width="1.1"/>
<line x1="450.50" y1="456.87" x2="450.50" y2="463.07" stroke="#000" stroke-width="1.1"/>
<line x1="448.50" y1="456.87" x2="452.50" y2="456.87" stroke="#000" stroke-width="1.1"/>
<line x1="448.50" y1="463.07" x2="452.50" y2="463.07" stroke="#000" stroke-width="1.1"/>
<line x1="450.50" y1="470.40" x2="450.50" y2="478.86" stroke="#000" stroke-width="1.1"/>
<line x1="448.50" y1="470.40" x2="452.50" y2="470.40" stroke="#000" stroke-width="1.1"/>
<line x1="448.50" y1="478.86" x2="452.50" y2="478.86" stroke="#000" stroke-width="1.1"/>
<rect x="312.40" y="402.23" width="2.80" height="2.80" fill="#000"/>
<rect x="357.80" y="420.39" width="2.80" height="2.80" fill="#000"/>
<rect x="403.40" y="428.51" width="2.80" height="2.80" fill="#000"/>
<rect x="449.10" y="459.98" width="2.80" height="2.80" fill="#000"/>
<rect x="312.40" y="418.81" width="2.80" height="2.80" fill="#000"/>
<rect x="357.80" y="412.04" width="2.80" height="2.80" fill="#000"/>
<rect x="403.40" y="420.50" width="2.80" height="2.80" fill="#000"/>
<rect x="449.10" y="456.60" width="2.80" height="2.80" fill="#000"/>
<rect x="312.40" y="416.55" width="2.80" height="2.80" fill="#000"/>
<rect x="357.80" y="413.62" width="2.80" height="2.80" fill="#000"/>
<rect x="403.40" y="430.09" width="2.80" height="2.80" fill="#000"/>
<rect x="449.10" y="458.29" width="2.80" height="2.80" fill="#000"/>
<rect x="312.30" y="420.85" width="3.00" height="3.00" fill="#fff" stroke="#000" stroke-width="0.9"/>
<rect x="357.70" y="414.65" width="3.00" height="3.00" fill="#fff" stroke="#000" stroke-width="0.9"/>
<rect x="403.30" y="426.27" width="3.00" height="3.00" fill="#fff" stroke="#000" stroke-width="0.9"/>
<rect x="449.00" y="470.82" width="3.00" height="3.00" fill="#fff" stroke="#000" stroke-width="0.9"/>
<polygon points="312.10,425.52 315.50,425.52 313.80,422.56" fill="#000"/>
<polygon points="357.50,419.66 360.90,419.66 359.20,416.70" fill="#000"/>
<polygon points="403.10,435.11 406.50,435.11 404.80,432.15" fill="#000"/>
<polygon points="448.80,478.65 452.20,478.65 450.50,475.69" fill="#000"/>
</svg>
</body></html>
